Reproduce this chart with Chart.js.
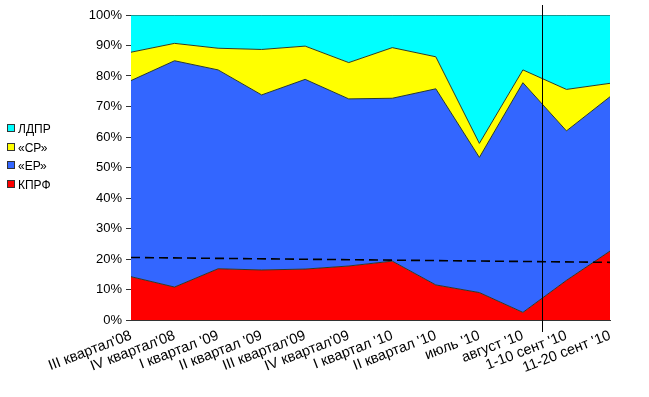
<!DOCTYPE html>
<html>
<head>
<meta charset="utf-8">
<script src="https://cdn.jsdelivr.net/npm/chart.js@4/dist/chart.umd.min.js"></script>
<style>
  body { margin: 0; background: #fff; }
  #wrap { position: relative; width: 649px; height: 397px; }
  #legend { position: absolute; left: 7px; top: 121px; font: 12px "Liberation Sans", Arial, sans-serif; color: #000; }
  #legend div { height: 18.5px; line-height: 16px; white-space: nowrap; }
  #legend span { display: inline-block; width: 6px; height: 6px; border: 1px solid #333; margin-right: 3px; vertical-align: 1px; }
</style>
</head>
<body>
<div id="wrap">
  <canvas id="chart" width="649" height="397"></canvas>
  <div id="legend"></div>
</div>
<script>
// Periods
const labels = ["III квартал'08", "IV квартал'08", "I квартал '09", "II квартал '09",
  "III квартал'09", "IV квартал'09", "I квартал '10", "II квартал '10",
  "июль '10", "август '10", "1-10 сент '10", "11-20 сент '10"];

// Shares, % (stacked bottom to top)
const kprf = [14.2, 10.8, 16.8, 16.4, 16.7, 17.7, 19.3, 11.5, 9.0, 2.5, 13.0, 22.6];
const er   = [64.3, 74.2, 65.2, 57.4, 62.2, 54.8, 53.4, 64.3, 44.3, 75.3, 49.0, 50.6];
const sr   = [9.3, 5.7, 7.1, 14.9, 10.9, 11.9, 16.6, 10.5, 4.6, 4.2, 13.6, 4.4];
const ldpr = [12.2, 9.3, 10.9, 11.3, 10.2, 15.6, 10.7, 13.7, 42.1, 18.0, 24.4, 22.4];

// Dashed trend line (only its ends)
const trend = [20.5, null, null, null, null, null, null, null, null, null, null, 18.9];

const yTicks = [0, 10, 20, 30, 40, 50, 60, 70, 80, 90, 100];

const series = [
  { label: "КПРФ", data: kprf, color: "#ff0000" },
  { label: "«ЕР»", data: er, color: "#3366ff" },
  { label: "«СР»", data: sr, color: "#ffff00" },
  { label: "ЛДПР", data: ldpr, color: "#00ffff" }
];

// HTML legend, top series first
const legendEl = document.getElementById("legend");
series.slice().reverse().forEach(s => {
  const d = document.createElement("div");
  d.innerHTML = `<span style="background:${s.color}"></span>${s.label}`;
  legendEl.appendChild(d);
});

const datasets = series.map((s, i) => ({
  label: s.label,
  data: s.data,
  backgroundColor: s.color,
  borderColor: "#2a3a2a",
  borderWidth: 1,
  pointRadius: 0,
  tension: 0,
  fill: i === 0 ? "origin" : "-1",
  yAxisID: "y"
}));

datasets.push({
  label: "trend",
  data: trend,
  borderColor: "#000",
  borderWidth: 1.6,
  borderDash: [9, 5],
  pointRadius: 0,
  fill: false,
  spanGaps: true,
  yAxisID: "y2",
  order: -1
});

// vertical marker line between "август" and "1-10 сент"
const markerLine = {
  id: "markerLine",
  afterDraw(chart) {
    const x = chart.scales.x;
    const px = Math.round(x.getPixelForValue(9) + 0.43 * (x.getPixelForValue(10) - x.getPixelForValue(9))) + 0.5;
    const ctx = chart.ctx;
    ctx.save();
    ctx.strokeStyle = "#000";
    ctx.lineWidth = 1;
    ctx.beginPath();
    ctx.moveTo(px, 5);
    ctx.lineTo(px, 332);
    ctx.stroke();
    ctx.restore();
  }
};

const font = { family: "'Liberation Sans', Arial, sans-serif", size: 13 };
const xFont = { family: "'Liberation Sans', Arial, sans-serif", size: 14.5 };

new Chart(document.getElementById("chart").getContext("2d"), {
  type: "line",
  data: { labels: labels, datasets: datasets },
  options: {
    responsive: false,
    animation: false,
    layout: { padding: { left: 80, right: 39, top: 15, bottom: 0 } },
    plugins: { legend: { display: false }, tooltip: { enabled: false } },
    scales: {
      x: {
        grid: { display: false, drawTicks: true, tickLength: 5, color: "#333" },
        border: { color: "#333" },
        ticks: { font: xFont, color: "#000", minRotation: 21, maxRotation: 21, autoSkip: false, padding: 2 },
        afterFit(scale) { scale.height = 77; }
      },
      y: {
        stacked: true,
        min: 0,
        max: 100,
        afterBuildTicks(scale) { scale.ticks = yTicks.map(v => ({ value: v })); },
        grid: { display: true, drawOnChartArea: false, tickLength: 5, color: "#333" },
        border: { color: "#333" },
        ticks: { font: font, color: "#000", padding: 4, callback: v => v + "%" },
        afterFit(scale) { scale.width = 51; }
      },
      y2: { display: false, min: 0, max: 100 }
    }
  },
  plugins: [markerLine]
});
</script>
</body>
</html>
